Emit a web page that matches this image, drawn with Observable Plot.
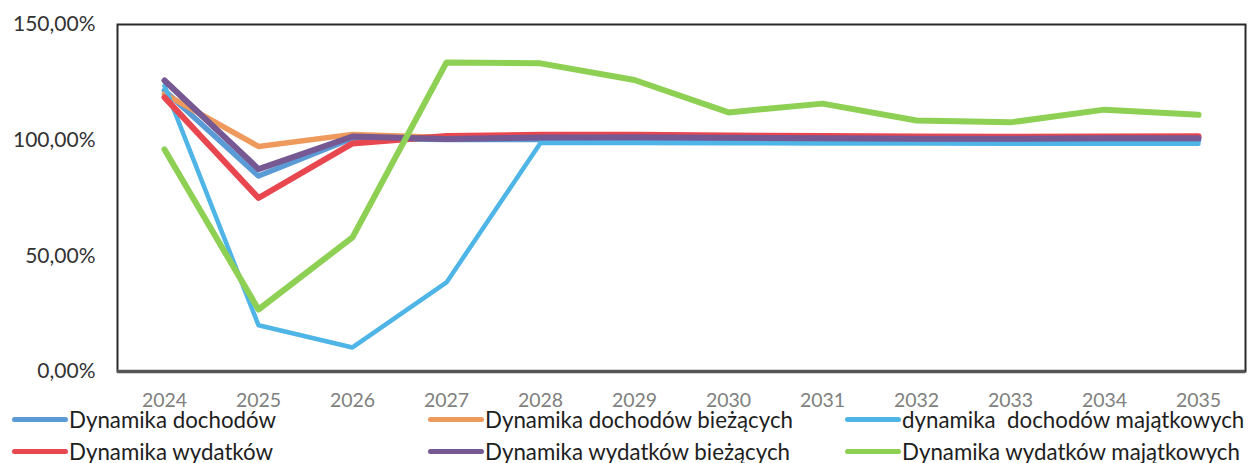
<!DOCTYPE html>
<html>
<head>
<meta charset="utf-8">
<script src="https://cdn.jsdelivr.net/npm/d3@7"></script>
<script src="https://cdn.jsdelivr.net/npm/@observablehq/plot@0.6"></script>
<style>
  html, body { margin: 0; padding: 0; background: #fff; }
  #wrap { position: relative; width: 1248px; height: 463px; overflow: hidden; }
  #legend { position: absolute; left: 0; top: 0; width: 1248px; height: 463px; pointer-events: none; }
  .item { position: absolute; display: flex; align-items: center; font-family: Lato, "Open Sans", sans-serif; font-size: 22.3px; color: #1e1e1e; white-space: pre; }
  .sw { width: 56px; height: 5px; border-radius: 3px; margin-right: 1px; }
</style>
</head>
<body>
<div id="wrap"><div id="chart"></div><div id="legend"></div></div>
<script>
const years = [2024, 2025, 2026, 2027, 2028, 2029, 2030, 2031, 2032, 2033, 2034, 2035];
const seriesNames = [
  "Dynamika dochodów",
  "Dynamika dochodów bieżących",
  "dynamika  dochodów majątkowych",
  "Dynamika wydatków",
  "Dynamika wydatków bieżących",
  "Dynamika wydatków majątkowych"
];
const seriesColors = ["#5B9BD5", "#EE9A5C", "#4FB4E6", "#E8474F", "#765892", "#8ED053"];
const dochody          = [121.5, 84.5, 100.8, 100.3, 100.3, 100.2, 100.1, 100.0, 100.0, 100.0, 100.0, 100.0];
const dochodyBiezace   = [120.0, 97.3, 102.5, 101.2, 101.6, 101.6, 101.4, 101.3, 101.2, 101.2, 101.3, 101.3];
const dochodyMajatkowe = [123.5, 20.0, 10.4, 38.5, 98.8, 98.8, 98.7, 98.6, 98.6, 98.5, 98.5, 98.4];
const wydatki          = [118.5, 75.0, 98.6, 101.8, 102.3, 102.3, 102.0, 101.8, 101.6, 101.5, 101.6, 101.7];
const wydatkiBiezace   = [125.8, 87.5, 101.6, 100.5, 101.2, 101.3, 101.0, 100.8, 100.6, 100.6, 100.8, 100.8];
const wydatkiMajatkowe = [96.0, 26.8, 58.0, 133.6, 133.2, 126.0, 112.0, 115.8, 108.5, 107.7, 113.2, 111.0];
const yTicks = [0, 50, 100, 150];

const allSeries = [dochody, dochodyBiezace, dochodyMajatkowe, wydatki, wydatkiBiezace, wydatkiMajatkowe];
const widths = [5.5, 5.5, 4.5, 6, 6, 6];
const data = [];
allSeries.forEach((vals, si) => {
  vals.forEach((v, i) => data.push({series: seriesNames[si], year: years[i], value: v}));
});

const fmt = v => v.toFixed(2).replace(".", ",") + "%";

const lineMarks = seriesNames.map((name, si) =>
  Plot.line(data.filter(d => d.series === name), {
    x: "year", y: "value",
    stroke: seriesColors[si], strokeWidth: widths[si],
    strokeLinejoin: "round", strokeLinecap: "round"
  })
);

const chart = Plot.plot({
  width: 1248,
  height: 463,
  marginLeft: 117,
  marginRight: 3,
  marginTop: 24,
  marginBottom: 92,
  style: {background: "transparent", fontFamily: "Lato, 'Open Sans', sans-serif"},
  x: {domain: [2023.5, 2035.5]},
  y: {domain: [0, 150]},
  marks: [
    Plot.frame({stroke: "#2a2a2a", strokeWidth: 2}),
    ...lineMarks,
    Plot.ruleY([0], {stroke: "#555", strokeWidth: 3.5}),
    Plot.axisY(yTicks, {tickSize: 0, tickPadding: 22, fontSize: 21, tickFormat: fmt, fill: "#333", label: null}),
    Plot.axisX(years, {tickSize: 0, tickPadding: 22, fontSize: 19.5, tickFormat: d => String(d), fill: "#808080", label: null})
  ]
});
document.getElementById("chart").appendChild(chart);

// legend (overlapping the bottom of the chart as in the reference)
const legendPos = [
  {left: 12, top: 419}, {left: 428, top: 419}, {left: 845, top: 419},
  {left: 12, top: 451}, {left: 428, top: 451}, {left: 845, top: 451}
];
const legend = document.getElementById("legend");
seriesNames.forEach((name, i) => {
  const it = document.createElement("div");
  it.className = "item";
  it.style.left = legendPos[i].left + "px";
  it.style.top = (legendPos[i].top - 13) + "px";
  it.style.height = "26px";
  const sw = document.createElement("div");
  sw.className = "sw";
  sw.style.background = seriesColors[i];
  const tx = document.createElement("span");
  tx.textContent = name;
  it.appendChild(sw);
  it.appendChild(tx);
  legend.appendChild(it);
});
</script>
</body>
</html>
